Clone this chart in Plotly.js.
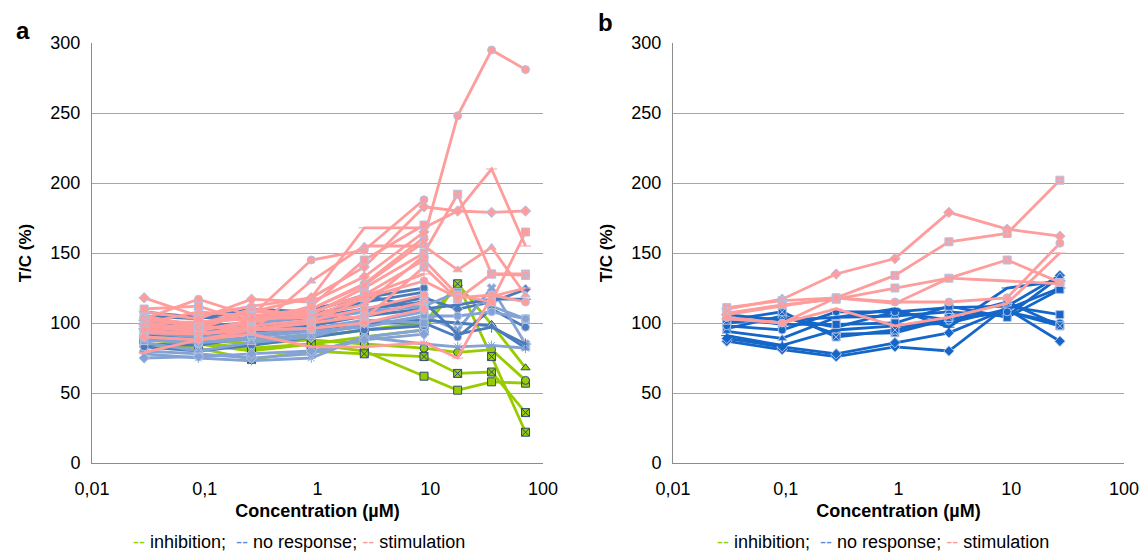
<!DOCTYPE html>
<html>
<head>
<meta charset="utf-8">
<script src="https://cdn.plot.ly/plotly-3.0.1.min.js"></script>
<style>html,body{margin:0;padding:0;background:#fff;}#chart{width:1146px;height:553px;}</style>
</head>
<body>
<div id="chart"></div>
<script>
// ---------- DATA ----------
const concA = [0.029, 0.088, 0.26, 0.88, 2.6, 8.8, 17.5, 35, 70];
const concB = [0.03, 0.093, 0.28, 0.93, 2.8, 9.2, 27];
const tickVals = [0.01, 0.1, 1, 10, 100];
const tickText = ["0,01", "0,1", "1", "10", "100"];
const yTicks = [0, 50, 100, 150, 200, 250, 300];

// Panel a – inhibition
const inhA1 = [88, 85, 80, 85, 80, 62, 52, 58, 57];
const inhA2 = [85, 82, 74, 80, 78, 76, 64, 65, 36];
const inhA3 = [90, 88, 85, 88, 85, 82, 79, 81, 59];
const inhA4 = [92, 90, 88, 90, 95, 100, 128, 99, 68];
const inhA5 = [88, 86, 82, 85, 90, 95, 128, 76, 22];
const inhibitionA = [inhA1, inhA2, inhA3, inhA4, inhA5];
const inhibitionASymbols = ["square", "square-x", "circle", "triangle-up", "square-x"];

// Panel a – no response
const noA1 = [95, 92, 98, 100, 110, 118, 110, 115, 124];
const noA2 = [90, 88, 95, 102, 108, 112, 122, 112, 103];
const noA3 = [85, 84, 90, 95, 100, 100, 90, 110, 97];
const noA4 = [88, 86, 88, 92, 98, 105, 95, 125, 85];
const noA5 = [92, 90, 94, 96, 100, 102, 100, 98, 82];
const noA6 = [78, 75, 73, 75, 90, 85, 83, 84, 82];
const noA7 = [96, 95, 97, 98, 105, 110, 113, 117, 117];
const noA8 = [88, 86, 90, 94, 97, 105, 105, 108, 103];
const noA9 = [102, 98, 100, 104, 110, 115, 92, 97, 85];
const noA10 = [80, 78, 75, 78, 90, 95];
const noA11 = [105, 103, 110, 108, 120, 110];
const noA12 = [100, 96, 100, 104, 108, 112];
const noA13 = [83, 80, 84, 90, 95, 98];
const noA14 = [75, 76, 78, 80, 88, 92];
const noA15 = [98, 100, 104, 106, 115, 122];
const noA16 = [93, 90, 92, 96, 102, 100];
const noA17 = [108, 104, 103, 110, 118, 125];
const noA18 = [86, 80, 86, 90, 100, 108];
const noResponseA = [noA1, noA2, noA3, noA4, noA5, noA6, noA7, noA8, noA9, noA10, noA11, noA12, noA13, noA14, noA15, noA16, noA17, noA18];
const noResponseASymbols = ["diamond", "square", "circle", "x", "triangle-up", "asterisk-open", "line-ew-open", "circle", "cross-thin-open", "diamond", "square", "triangle-up", "circle", "diamond", "x", "square", "circle", "triangle-up"];

// Panel a – stimulation
const stA1 = [103, 117, 105, 145, 152, 188];
const stA2 = [118, 105, 112, 118, 140, 183, 180, 179, 180];
const stA3 = [100, 95, 100, 110, 128, 161, 248, 295, 281];
const stA4 = [98, 96, 108, 118, 168, 168, 180, 210, 155];
const stA5 = [97, 94, 102, 106, 125, 150, 192, 135, 135];
const stA6 = [95, 100, 104, 108, 120, 145, 120, 115, 165];
const stA7 = [96, 98, 94, 130, 155, 155, 138, 154, 120];
const stA8 = [102, 100, 108, 107, 103, 140, 117, 135, 134];
const stA9 = [93, 92, 95, 100, 118, 130, 118, 120, 115];
const stA10 = [79, 88, 92, 83, 83, 86, 75, 119, 125];
const stA11 = [108, 103, 117, 115, 133, 165];
const stA12 = [100, 108, 105, 110, 127, 158];
const stA13 = [105, 98, 110, 105, 113, 148];
const stA14 = [110, 112, 100, 112, 145, 170];
const stA15 = [99, 101, 103, 104, 119, 135];
const stA16 = [95, 92, 98, 102, 110, 120];
const stA17 = [103, 97, 96, 100, 105, 115];
const stA18 = [90, 88, 95, 96, 100, 110];
const stimulationA = [stA1, stA2, stA3, stA4, stA5, stA6, stA7, stA8, stA9, stA10, stA11, stA12, stA13, stA14, stA15, stA16, stA17, stA18];
const stimulationASymbols = ["circle", "diamond", "circle", "line-ew-open", "square-x", "square", "triangle-up", "square-x", "circle", "line-ew-open", "diamond", "x", "triangle-up", "square", "cross-thin-open", "circle", "square-x", "diamond"];

// Panel b – no response
const noB1 = [87, 81, 76, 83, 80, 112, 134];
const noB2 = [89, 83, 78, 86, 93, 110, 87];
const noB3 = [100, 104, 97, 108, 111, 112, 106];
const noB4 = [96, 105, 92, 93, 103, 108, 98];
const noB5 = [94, 89, 104, 105, 108, 105, 133];
const noB6 = [91, 84, 95, 98, 100, 110, 125];
const noB7 = [104, 99, 99, 100, 112, 104, 124];
const noB8 = [98, 95, 108, 108, 102, 108, 100];
const noB9 = [102, 108, 90, 95, 104, 115, 98];
const noB10 = [106, 102, 104, 110, 97, 125, 130];
const noResponseB = [noB1, noB2, noB3, noB4, noB5, noB6, noB7, noB8, noB9, noB10];
const noResponseBSymbols = ["diamond", "diamond", "square", "square-x", "triangle-up", "cross-thin-open", "square", "circle", "square-x", "line-ew-open"];

// Panel b – stimulation
const stB1 = [110, 117, 135, 146, 179, 167, 162];
const stB2 = [111, 116, 118, 134, 158, 164, 202];
const stB3 = [107, 113, 117, 125, 132, 145, 129];
const stB4 = [106, 112, 118, 114, 132, 130, 128];
const stB5 = [104, 100, 118, 115, 115, 118, 157];
const stB6 = [103, 100, 110, 98, 104, 114, 150];
const stimulationB = [stB1, stB2, stB3, stB4, stB5, stB6];
const stimulationBSymbols = ["diamond", "square-cross", "square-x", "line-ew-open", "circle", "line-ew-open"];

// ---------- STYLE ----------
const GREEN = "#99cc00";
const BLUE_DARK = "#4a7cbc";
const BLUE_LIGHT = "#84a2d4";
const PINK = "#ff9c9c";
const BLUE_B = "#1466c8";
const EDGE_LIGHT = "#b4c2e2";
const EDGE_DARK = "#2b4a7a";

const traces = [];
function addGroup(list, symbols, xs, color, edge, xa, ya, altColor) {
  list.forEach((vals, i) => {
    const c = altColor && i % 2 === 1 ? altColor : color;
    traces.push({
      type: "scatter", mode: "lines+markers",
      x: xs.slice(0, vals.length), y: vals,
      xaxis: xa, yaxis: ya,
      line: {color: c, width: 2.8},
      marker: {symbol: symbols[i], size: 8, color: c, line: {color: edge, width: 1}},
      showlegend: false, hoverinfo: "skip"
    });
  });
}
addGroup(inhibitionA, inhibitionASymbols, concA, GREEN, EDGE_DARK, "x", "y");
addGroup(noResponseA, noResponseASymbols, concA, BLUE_DARK, EDGE_LIGHT, "x", "y", BLUE_LIGHT);
addGroup(stimulationA, stimulationASymbols, concA, PINK, EDGE_LIGHT, "x", "y");
addGroup(noResponseB, noResponseBSymbols, concB, BLUE_B, EDGE_LIGHT, "x2", "y2");
addGroup(stimulationB, stimulationBSymbols, concB, PINK, EDGE_LIGHT, "x2", "y2");

const FONT = "Liberation Sans, Arial, Helvetica, sans-serif";
const xBase = {
  type: "log", range: [-2, 2], tickvals: tickVals, ticktext: tickText,
  showgrid: false, zeroline: false, showline: true, linecolor: "#8c8c8c", linewidth: 1,
  ticks: "outside", ticklen: 9, tickcolor: "rgba(0,0,0,0)",
  tickfont: {size: 18, color: "#000", family: FONT},
  title: {text: "<b>Concentration (µM)</b>", font: {size: 18, color: "#000", family: FONT}, standoff: 6}
};
const yBase = {
  range: [0, 300], tickvals: yTicks, showgrid: true, gridcolor: "#a6a6a6", gridwidth: 1,
  zeroline: false, showline: true, linecolor: "#8c8c8c", linewidth: 1,
  ticks: "outside", ticklen: 7, tickcolor: "rgba(0,0,0,0)",
  tickfont: {size: 18, color: "#000", family: FONT},
  title: {text: "<b>T/C (%)</b>", font: {size: 17, color: "#000", family: FONT}, standoff: 14}
};
const yDom = [90 / 553, 510 / 553];
const legendText = '<span style="color:' + GREEN + '">--</span> inhibition;  <span style="color:#5b8fe0">--</span> no response; <span style="color:' + PINK + '">--</span> stimulation';
const layout = {
  width: 1146, height: 553,
  margin: {l: 0, r: 0, t: 0, b: 0},
  paper_bgcolor: "#fff", plot_bgcolor: "#fff",
  font: {family: FONT, color: "#000"},
  xaxis: Object.assign({}, xBase, {domain: [92 / 1146, 543 / 1146], anchor: "y"}),
  yaxis: Object.assign({}, yBase, {domain: yDom, anchor: "x"}),
  xaxis2: Object.assign({}, xBase, {domain: [673 / 1146, 1124 / 1146], anchor: "y2"}),
  yaxis2: Object.assign({}, yBase, {domain: yDom, anchor: "x2"}),
  annotations: [
    {text: "<b>a</b>", x: 23 / 1146, y: 1 - 30 / 553, xref: "paper", yref: "paper", xanchor: "center", yanchor: "middle", showarrow: false, font: {size: 24, family: FONT}},
    {text: "<b>b</b>", x: 606 / 1146, y: 1 - 22 / 553, xref: "paper", yref: "paper", xanchor: "center", yanchor: "middle", showarrow: false, font: {size: 24, family: FONT}},
    {text: legendText, x: 299 / 1146, y: 1 - 542 / 553, xref: "paper", yref: "paper", xanchor: "center", yanchor: "middle", showarrow: false, font: {size: 18, family: FONT}},
    {text: legendText, x: 883 / 1146, y: 1 - 542 / 553, xref: "paper", yref: "paper", xanchor: "center", yanchor: "middle", showarrow: false, font: {size: 18, family: FONT}}
  ]
};
Plotly.newPlot("chart", traces, layout, {staticPlot: true, displayModeBar: false});
</script>
</body>
</html>
